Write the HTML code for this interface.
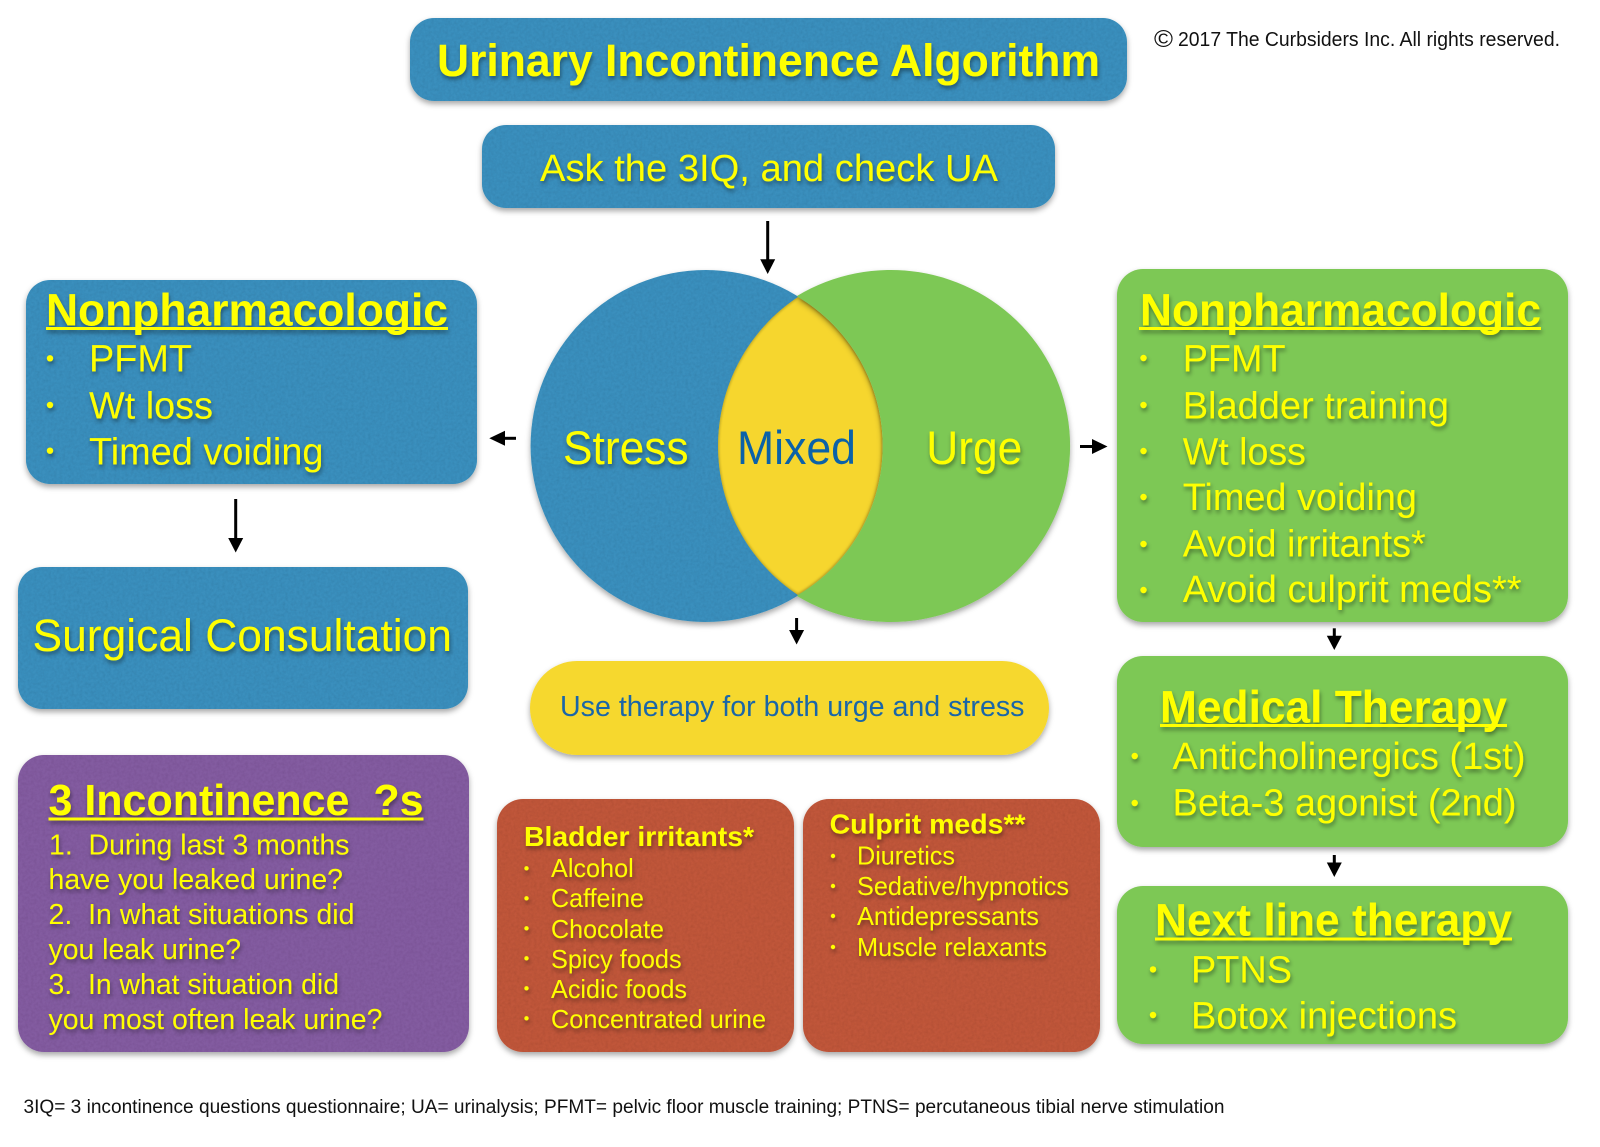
<!DOCTYPE html>
<html>
<head>
<meta charset="utf-8">
<style>
html,body{margin:0;padding:0;background:#fff;}
svg{display:block;}
text{font-family:"Liberation Sans",sans-serif;}
.y{fill:#ffff00;filter:url(#ts);}
.h{font-weight:bold;}
</style>
</head>
<body>
<svg xmlns="http://www.w3.org/2000/svg" width="1600" height="1147" viewBox="0 0 1600 1147">
<defs>
<filter id="ts" x="-10%" y="-30%" width="120%" height="170%"><feDropShadow dx="1" dy="3" stdDeviation="2" flood-color="#000" flood-opacity="0.4"/></filter>
<filter id="bs" x="-5%" y="-5%" width="110%" height="115%"><feDropShadow dx="0" dy="3" stdDeviation="3" flood-color="#000" flood-opacity="0.35"/></filter>
<filter id="paper" x="-5%" y="-5%" width="110%" height="115%">
<feTurbulence type="fractalNoise" baseFrequency="0.35" numOctaves="3" seed="4" result="n"/>
<feColorMatrix in="n" type="matrix" values="0 0 0 0 0  0 0 0 0 0  0 0 0 0 0  0.25 0 0 0 -0.09" result="na"/>
<feComposite in="na" in2="SourceAlpha" operator="in" result="nc"/>
<feDropShadow in="SourceGraphic" dx="0" dy="3" stdDeviation="3" flood-color="#000" flood-opacity="0.35" result="sh"/>
<feMerge><feMergeNode in="sh"/><feMergeNode in="nc"/></feMerge>
</filter>
<filter id="soft" x="-10%" y="-10%" width="120%" height="120%"><feGaussianBlur stdDeviation="1"/></filter>
<clipPath id="lens"><path d="M798,297 A173.4,173.4 0 0 1 798,595 A178.8,178.8 0 0 1 798,297 Z"/></clipPath>
</defs>
<rect width="1600" height="1147" fill="#fff"/>

<!-- boxes -->
<g filter="url(#paper)">
<rect x="410" y="18" width="717" height="83" rx="24" fill="#3a8fbd"/>
<rect x="482" y="125" width="573" height="83" rx="24" fill="#3a8fbd"/>
<rect x="26" y="280" width="451" height="204" rx="24" fill="#3a8fbd"/>
<rect x="18" y="567" width="450" height="142" rx="24" fill="#3a8fbd"/>
<rect x="18" y="755" width="451" height="297" rx="26" fill="#835ba0"/>
<rect x="497" y="799" width="297" height="253" rx="26" fill="#c0563b"/>
<rect x="803" y="799" width="297" height="253" rx="26" fill="#c0563b"/>
</g>
<g filter="url(#bs)">
<rect x="530" y="661" width="519" height="94" rx="47" fill="#f6d82f"/>
<rect x="1117" y="269" width="451" height="353" rx="26" fill="#7dc855"/>
<rect x="1117" y="656" width="451" height="191" rx="26" fill="#7dc855"/>
<rect x="1117" y="886" width="451" height="158" rx="26" fill="#7dc855"/>
</g>

<!-- venn -->
<ellipse cx="705.6" cy="446" rx="175" ry="176" fill="#3a8fbd" filter="url(#paper)"/>
<path d="M798,297 A173.4,173.4 0 0 1 798,595 A178.8,178.8 0 0 1 798,297 Z" fill="#f6d62e"/>
<g clip-path="url(#lens)"><path d="M798,297 A173.4,173.4 0 0 1 798,595 A178.8,178.8 0 0 1 798,297 Z" fill="none" stroke="#a08c20" stroke-width="2" opacity="0.7" filter="url(#soft)"/></g>
<path d="M797,296 A179.3,176 0 1 1 797,596 L798,595 A173.4,173.4 0 0 0 798,297 Z" fill="#7dc855" filter="url(#bs)"/>

<!-- arrows -->
<g fill="#000" stroke="none">
<rect x="766.2" y="221" width="3" height="40"/><path d="M760.2,259.3 L775.2,259.3 L767.7,274 Z"/>
<rect x="503" y="436.8" width="13" height="3"/><path d="M505,430.8 L505,445.8 L489.3,438.3 Z"/>
<rect x="1080" y="445" width="14" height="3"/><path d="M1092,439 L1092,454 L1107.5,446.5 Z"/>
<rect x="795.1" y="618" width="3" height="14"/><path d="M789.1,630 L804.1,630 L796.6,644.5 Z"/>
<rect x="234.2" y="499" width="3" height="40"/><path d="M228.2,538 L243.2,538 L235.7,552.5 Z"/>
<rect x="1332.8" y="628.3" width="3" height="10"/><path d="M1326.8,635.7 L1341.8,635.7 L1334.3,650 Z"/>
<rect x="1332.8" y="855" width="3" height="10"/><path d="M1326.8,862.5 L1341.8,862.5 L1334.3,877 Z"/>
</g>

<!-- title etc -->
<text class="y" x="437" y="76" font-size="45" font-weight="bold" textLength="663" lengthAdjust="spacingAndGlyphs">Urinary Incontinence Algorithm</text>
<text class="y" x="540" y="181" font-size="38" textLength="458" lengthAdjust="spacingAndGlyphs">Ask the 3IQ, and check UA</text>
<text x="1154" y="47" font-size="24" fill="#111" textLength="19" lengthAdjust="spacingAndGlyphs">©</text>
<text x="1178" y="46" font-size="20" fill="#111" textLength="382" lengthAdjust="spacingAndGlyphs">2017 The Curbsiders Inc. All rights reserved.</text>

<!-- left nonpharm -->
<g class="y">
<text class="h" x="46" y="325.5" font-size="45" textLength="402" lengthAdjust="spacingAndGlyphs">Nonpharmacologic</text>
<rect x="46" y="327" width="402" height="3"/>
<circle cx="50" cy="358.3" r="3.2"/><circle cx="50" cy="405" r="3.2"/><circle cx="50" cy="450.7" r="3.2"/>
<text x="89" y="371.5" font-size="38" textLength="103" lengthAdjust="spacingAndGlyphs">PFMT</text>
<text x="89" y="418.5" font-size="38" textLength="124" lengthAdjust="spacingAndGlyphs">Wt loss</text>
<text x="89" y="464.5" font-size="38" textLength="234.5" lengthAdjust="spacingAndGlyphs">Timed voiding</text>
</g>

<text class="y" x="32.5" y="651" font-size="45" textLength="419.5" lengthAdjust="spacingAndGlyphs">Surgical Consultation</text>

<!-- purple -->
<g class="y">
<text class="h" x="48.5" y="815" font-size="44" textLength="375" lengthAdjust="spacingAndGlyphs" xml:space="preserve">3 Incontinence  ?s</text>
<rect x="48.5" y="817.5" width="375" height="3"/>
</g>
<g class="y" font-size="29">
<text x="49" y="854.5" textLength="300.5" lengthAdjust="spacingAndGlyphs" xml:space="preserve">1.  During last 3 months</text>
<text x="48.5" y="889" textLength="294.5" lengthAdjust="spacingAndGlyphs">have you leaked urine?</text>
<text x="48.5" y="924" textLength="306" lengthAdjust="spacingAndGlyphs" xml:space="preserve">2.  In what situations did</text>
<text x="48.5" y="959" textLength="192.5" lengthAdjust="spacingAndGlyphs">you leak urine?</text>
<text x="48.5" y="994" textLength="290.5" lengthAdjust="spacingAndGlyphs" xml:space="preserve">3.  In what situation did</text>
<text x="48.5" y="1029" textLength="334" lengthAdjust="spacingAndGlyphs">you most often leak urine?</text>
</g>

<!-- irritants -->
<text class="y" x="524" y="846" font-size="28" font-weight="bold" textLength="230" lengthAdjust="spacingAndGlyphs">Bladder irritants*</text>
<g class="y" font-size="26">
<circle cx="526.5" cy="868.3" r="2.2"/><text x="551" y="877" textLength="82.7" lengthAdjust="spacingAndGlyphs">Alcohol</text>
<circle cx="526.5" cy="898.3" r="2.2"/><text x="551" y="907" textLength="93" lengthAdjust="spacingAndGlyphs">Caffeine</text>
<circle cx="526.5" cy="928.3" r="2.2"/><text x="551" y="938" textLength="113" lengthAdjust="spacingAndGlyphs">Chocolate</text>
<circle cx="526.5" cy="958.3" r="2.2"/><text x="551" y="968" textLength="130.6" lengthAdjust="spacingAndGlyphs">Spicy foods</text>
<circle cx="526.5" cy="988.3" r="2.2"/><text x="551" y="998" textLength="136" lengthAdjust="spacingAndGlyphs">Acidic foods</text>
<circle cx="526.5" cy="1018.3" r="2.2"/><text x="551" y="1028" textLength="215" lengthAdjust="spacingAndGlyphs">Concentrated urine</text>
</g>

<!-- culprit -->
<text class="y" x="829.6" y="833.7" font-size="28" font-weight="bold" textLength="196" lengthAdjust="spacingAndGlyphs">Culprit meds**</text>
<g class="y" font-size="26">
<circle cx="833" cy="856" r="2.2"/><text x="857" y="864.5" textLength="98" lengthAdjust="spacingAndGlyphs">Diuretics</text>
<circle cx="833" cy="886" r="2.2"/><text x="857" y="895" textLength="212" lengthAdjust="spacingAndGlyphs">Sedative/hypnotics</text>
<circle cx="833" cy="916" r="2.2"/><text x="857" y="925" textLength="182" lengthAdjust="spacingAndGlyphs">Antidepressants</text>
<circle cx="833" cy="947" r="2.2"/><text x="857" y="956" textLength="190" lengthAdjust="spacingAndGlyphs">Muscle relaxants</text>
</g>

<!-- venn labels -->
<text class="y" x="563" y="464" font-size="47" textLength="125.5" lengthAdjust="spacingAndGlyphs">Stress</text>
<text x="737" y="464" font-size="47" fill="#0b62a8" textLength="119" lengthAdjust="spacingAndGlyphs">Mixed</text>
<text class="y" x="926.3" y="464" font-size="47" textLength="96" lengthAdjust="spacingAndGlyphs">Urge</text>

<text x="560" y="716" font-size="29" fill="#1a66a8" textLength="464.5" lengthAdjust="spacingAndGlyphs">Use therapy for both urge and stress</text>

<!-- right nonpharm -->
<g class="y">
<text class="h" x="1140" y="325.5" font-size="45" textLength="401" lengthAdjust="spacingAndGlyphs">Nonpharmacologic</text>
<rect x="1139" y="327" width="402" height="3"/>
</g>
<g class="y" font-size="38">
<circle cx="1143.5" cy="358" r="3.2"/><text x="1182.7" y="371.5" textLength="103" lengthAdjust="spacingAndGlyphs">PFMT</text>
<circle cx="1143.5" cy="405" r="3.2"/><text x="1182.7" y="418.5" textLength="266.3" lengthAdjust="spacingAndGlyphs">Bladder training</text>
<circle cx="1143.5" cy="451" r="3.2"/><text x="1182.7" y="464.3" textLength="123.3" lengthAdjust="spacingAndGlyphs">Wt loss</text>
<circle cx="1143.5" cy="497" r="3.2"/><text x="1182.7" y="510" textLength="234.3" lengthAdjust="spacingAndGlyphs">Timed voiding</text>
<circle cx="1143.5" cy="544" r="3.2"/><text x="1182.7" y="556.5" textLength="243" lengthAdjust="spacingAndGlyphs">Avoid irritants*</text>
<circle cx="1143.5" cy="590" r="3.2"/><text x="1182.7" y="602" textLength="338.8" lengthAdjust="spacingAndGlyphs">Avoid culprit meds**</text>
</g>

<!-- medical -->
<g class="y">
<text class="h" x="1160" y="722.5" font-size="45" textLength="347" lengthAdjust="spacingAndGlyphs">Medical Therapy</text>
<rect x="1160" y="724" width="347" height="3"/>
</g>
<g class="y" font-size="38">
<circle cx="1134.7" cy="756" r="3.2"/><text x="1172.5" y="769" textLength="353" lengthAdjust="spacingAndGlyphs">Anticholinergics (1st)</text>
<circle cx="1134.7" cy="803" r="3.2"/><text x="1172.5" y="815.3" textLength="344" lengthAdjust="spacingAndGlyphs">Beta-3 agonist (2nd)</text>
</g>

<!-- next line -->
<g class="y">
<text class="h" x="1155" y="935.7" font-size="45" textLength="357" lengthAdjust="spacingAndGlyphs">Next line therapy</text>
<rect x="1155" y="937.5" width="357" height="3"/>
</g>
<g class="y" font-size="38">
<circle cx="1153" cy="969.4" r="3.2"/><text x="1191" y="982.7" textLength="101" lengthAdjust="spacingAndGlyphs">PTNS</text>
<circle cx="1153" cy="1015" r="3.2"/><text x="1191" y="1028.6" textLength="266" lengthAdjust="spacingAndGlyphs">Botox injections</text>
</g>

<!-- footer -->
<text x="23.5" y="1113" font-size="19" fill="#111" textLength="1201" lengthAdjust="spacingAndGlyphs">3IQ= 3 incontinence questions questionnaire; UA= urinalysis; PFMT= pelvic floor muscle training; PTNS= percutaneous tibial nerve stimulation</text>
</svg>
</body>
</html>
